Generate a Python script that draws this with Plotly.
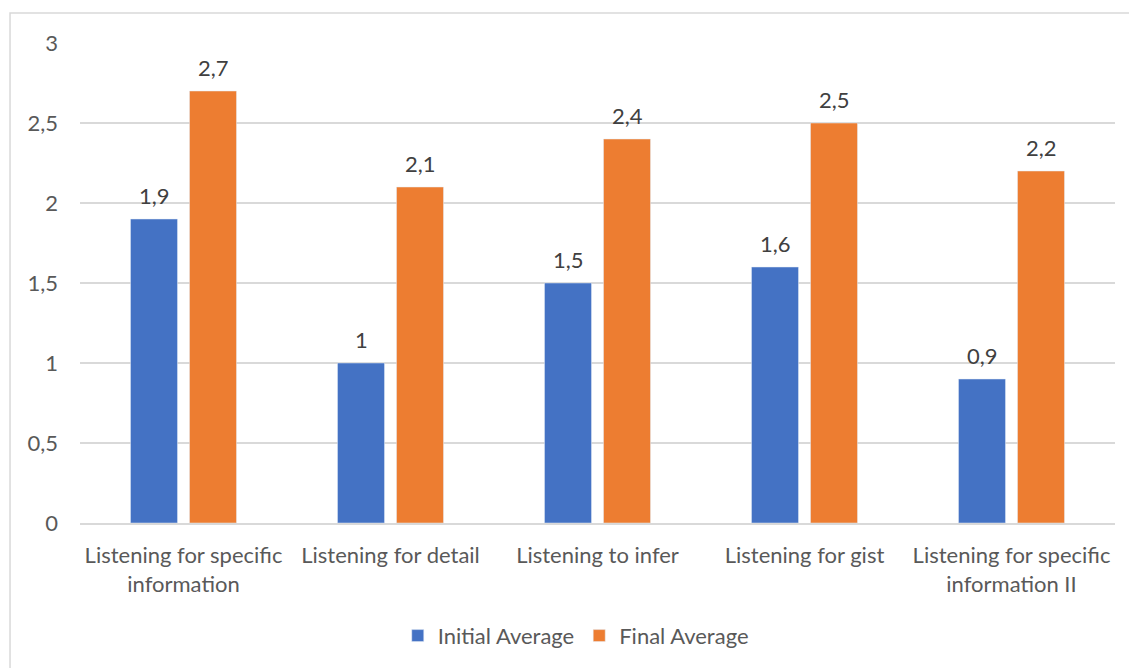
import plotly.graph_objects as go

categories = ["Listening for specific<br>information", "Listening for detail", "Listening to infer",
              "Listening for gist", "Listening for specific<br>information II"]
initial_avg = [1.9, 1.0, 1.5, 1.6, 0.9]
final_avg = [2.7, 2.1, 2.4, 2.5, 2.2]
y_ticks = [0, 0.5, 1, 1.5, 2, 2.5, 3]

FONT = "Lato"
TXT = "#595959"
FS = 22

fig = go.Figure()
fig.add_trace(go.Bar(name="Initial Average", x=categories, y=initial_avg, marker_color="#4472C4"))
fig.add_trace(go.Bar(name="Final Average", x=categories, y=final_avg, marker_color="#ED7D31"))

def fmt(v):
    return ("%g" % v).replace(".", ",")

for vals, shift in ((initial_avg, -29.5), (final_avg, 29.5)):
    for c, v in zip(categories, vals):
        fig.add_annotation(x=c, y=v, text=fmt(v), showarrow=False, xshift=shift, yshift=24,
                           font=dict(family=FONT, size=FS, color="#404040"))

fig.add_shape(type="rect", xref="paper", yref="paper", x0=-0.0676, x1=1.2, y0=-0.6, y1=1.0625,
              line=dict(color="#d9d9d9", width=1.5), fillcolor="rgba(0,0,0,0)", layer="below")

fig.update_layout(
    width=1129, height=668,
    margin=dict(l=80, r=14, t=43, b=145, autoexpand=False),
    paper_bgcolor="white", plot_bgcolor="white",
    separators=",.",
    barmode="group", bargap=0.43, bargroupgap=0.203,
    font=dict(family=FONT, size=FS, color=TXT),
    showlegend=True,
    legend=dict(orientation="h", x=0.479, xanchor="center", y=-0.235, yanchor="middle",
                font=dict(family=FONT, size=FS, color=TXT), itemwidth=30, traceorder="normal"),
    xaxis=dict(showgrid=False, showline=True, linecolor="#d9d9d9", linewidth=1.5, ticks="",
               tickfont=dict(family=FONT, size=FS, color=TXT), ticklabelstandoff=12),
    yaxis=dict(range=[0, 3], tickvals=y_ticks, showgrid=True, gridcolor="#d9d9d9", gridwidth=1.5,
               zeroline=False, showline=False, ticks="", ticklabelstandoff=21,
               tickfont=dict(family=FONT, size=FS, color=TXT)),
)

fig.write_html("out.html")
